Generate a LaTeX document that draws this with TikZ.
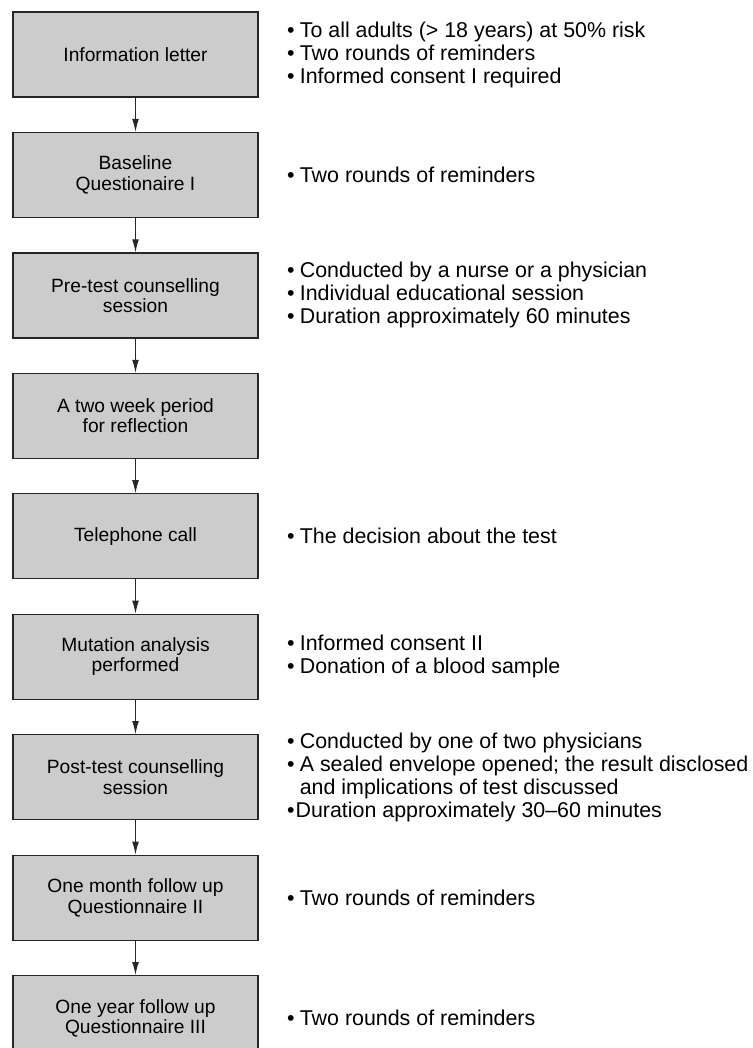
\documentclass[tikz,border=0pt]{standalone}
\usepackage{fontspec}
\setmainfont{Liberation Sans}
\usepackage{tikz}
\usetikzlibrary{positioning,arrows.meta}
\tikzstyle{box} = [draw=black!85,fill=black!20,line width=.6pt,minimum width=122.5pt,minimum height=42.5pt,inner sep=0pt,align=center,font=\fontsize{9.6}{10.2}\selectfont]
\tikzstyle{note} = [inner sep=0pt,align=left,font=\fontsize{10.7}{11.5}\selectfont]
\tikzstyle{arrow} = [-{Latex[length=6.5pt,width=3.4pt]},line width=.5pt,black!85]
\newcommand{\bl}{\textbullet\hspace{.25em}}
\newcommand{\blgap}{\phantom{\textbullet}\hspace{.25em}}

\begin{document}
\begin{tikzpicture}[node distance=17.125pt]
      \useasboundingbox(0,0)rectangle(376pt,-524pt);
      \node[box](letter)at(67.75pt,-27.25pt){Information letter};
      \node[box,below=of letter](baseline){Baseline\\Questionaire I};
      \node[box,below=of baseline](pretest){Pre-test counselling\\session};
      \node[box,below=of pretest](reflect){A two week period\\for reflection};
      \node[box,below=of reflect](phone){Telephone call};
      \node[box,below=of phone](mutation){Mutation analysis\\performed};
      \node[box,below=of mutation](posttest){Post-test counselling\\session};
      \node[box,below=of posttest](month){One month follow up\\Questionnaire II};
      \node[box,below=of month](year){One year follow up\\Questionnaire III};
      \draw[arrow](letter)--(baseline);
      \draw[arrow](baseline)--(pretest);
      \draw[arrow](pretest)--(reflect);
      \draw[arrow](reflect)--(phone);
      \draw[arrow](phone)--(mutation);
      \draw[arrow](mutation)--(posttest);
      \draw[arrow](posttest)--(month);
      \draw[arrow](month)--(year);
      % notes beside the boxes
      \node[note,right=14pt of letter](letternote){\bl To all adults (> 18 years) at 50\% risk\\\bl Two rounds of reminders\\\bl Informed consent I required};
      \node[note,right=14pt of baseline](baselinenote){\bl Two rounds of reminders};
      \node[note,right=14pt of pretest](pretestnote){\bl Conducted by a nurse or a physician\\\bl Individual educational session\\\bl Duration approximately 60 minutes};
      \node[note,right=14pt of phone](phonenote){\bl The decision about the test};
      \node[note,right=14pt of mutation](mutationnote){\bl Informed consent II\\\bl Donation of a blood sample};
      \node[note,right=14pt of posttest](posttestnote){\bl Conducted by one of two physicians\\\bl A sealed envelope opened; the result disclosed\\\blgap and implications of test discussed\\\textbullet\hspace{.05em}Duration approximately 30--60 minutes};
      \node[note,right=14pt of month](monthnote){\bl Two rounds of reminders};
      \node[note,right=14pt of year](yearnote){\bl Two rounds of reminders};
    \end{tikzpicture}
\end{document}
